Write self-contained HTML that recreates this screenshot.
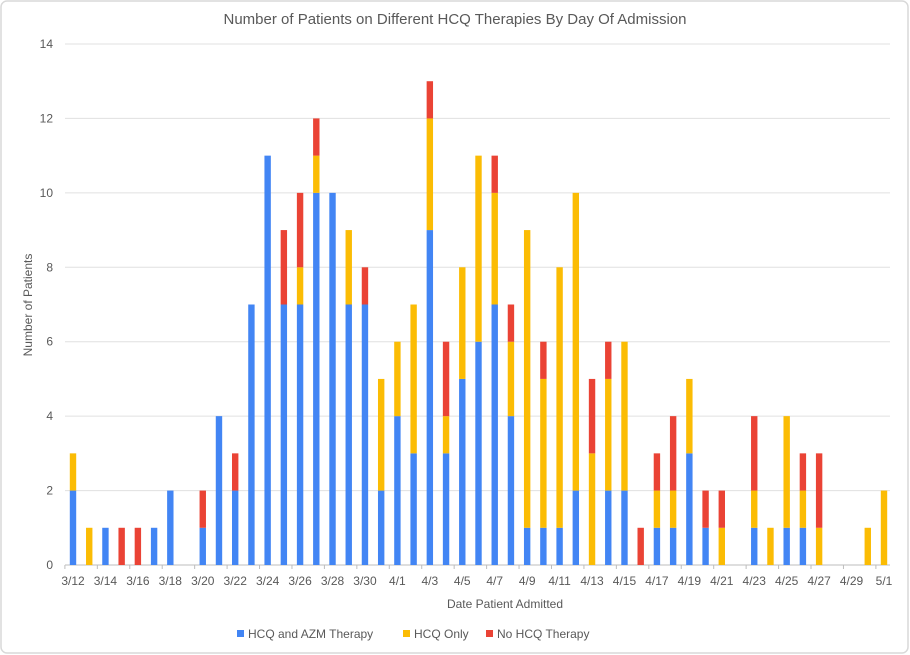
<!DOCTYPE html>
<html><head><meta charset="utf-8"><style>
html,body{margin:0;padding:0;background:#fff;}
svg{display:block;font-family:"Liberation Sans",Arial,sans-serif;}
</style></head><body>
<svg id="c" width="910" height="655" xmlns="http://www.w3.org/2000/svg">
<rect x="1" y="1" width="907" height="652" rx="6" fill="#fff" stroke="#d9d9d9" stroke-width="1.5"/>
<text x="455" y="24" text-anchor="middle" font-size="15" fill="#595959">Number of Patients on Different HCQ Therapies By Day Of Admission</text>
<text transform="translate(32,305) rotate(-90)" text-anchor="middle" font-size="12" fill="#595959">Number of Patients</text>
<text x="505" y="608" text-anchor="middle" font-size="12" fill="#595959">Date Patient Admitted</text>
<g font-size="12" fill="#595959">
<rect x="237" y="630" width="7" height="7" fill="#4285f4"/><text x="248" y="638">HCQ and AZM Therapy</text>
<rect x="403" y="630" width="7" height="7" fill="#fbbc04"/><text x="414" y="638">HCQ Only</text>
<rect x="486" y="630" width="7" height="7" fill="#ea4335"/><text x="497" y="638">No HCQ Therapy</text>
</g>
<g id="g"></g>
</svg>
<script>
var d=[[2,1,0],[0,1,0],[1,0,0],[0,0,1],[0,0,1],[1,0,0],[2,0,0],[0,0,0],[1,0,1],[4,0,0],[2,0,1],[7,0,0],[11,0,0],[7,0,2],[7,1,2],[10,1,1],[10,0,0],[7,2,0],[7,0,1],[2,3,0],[4,2,0],[3,4,0],[9,3,1],[3,1,2],[5,3,0],[6,5,0],[7,3,1],[4,2,1],[1,8,0],[1,4,1],[1,7,0],[2,8,0],[0,3,2],[2,3,1],[2,4,0],[0,0,1],[1,1,1],[1,1,2],[3,2,0],[1,0,1],[0,1,1],[0,0,0],[1,1,2],[0,1,0],[1,3,0],[1,1,1],[0,1,2],[0,0,0],[0,0,0],[0,1,0],[0,2,0]];
var labels=["3/12","3/14","3/16","3/18","3/20","3/22","3/24","3/26","3/28","3/30","4/1","4/3","4/5","4/7","4/9","4/11","4/13","4/15","4/17","4/19","4/21","4/23","4/25","4/27","4/29","5/1"];
var y0=565,u=(565-44)/14,x0=73,sp=(884-73)/50,s="";
for(var i=0;i<=7;i++){var y=y0-i*2*u;s+='<line x1="65" x2="890" y1="'+y+'" y2="'+y+'" stroke="'+(i?'#e0e0e0':'#bdbdbd')+'"/>';s+='<text x="53" y="'+(y+4)+'" text-anchor="end" font-size="12" fill="#595959">'+(i*2)+'</text>';}
var cols=["#4285f4","#fbbc04","#ea4335"];
for(var k=0;k<d.length;k++){var cx=x0+k*sp,b=y0;for(var j=0;j<3;j++){var h=d[k][j]*u;if(h>0){s+='<rect x="'+(cx-3.2)+'" y="'+(b-h)+'" width="6.4" height="'+h+'" fill="'+cols[j]+'"/>';b-=h;}}}
for(var k=0;k<labels.length;k++){var cx=x0+2*k*sp;s+='<text x="'+cx+'" y="585" text-anchor="middle" font-size="12" fill="#595959">'+labels[k]+'</text>';}
for(var k=0;k<=25;k++){var tx=x0+(2*k-0.5)*sp;s+='<line x1="'+tx+'" x2="'+tx+'" y1="565" y2="569" stroke="#bdbdbd"/>';}
document.getElementById("g").innerHTML=s;
</script>
</body></html>
